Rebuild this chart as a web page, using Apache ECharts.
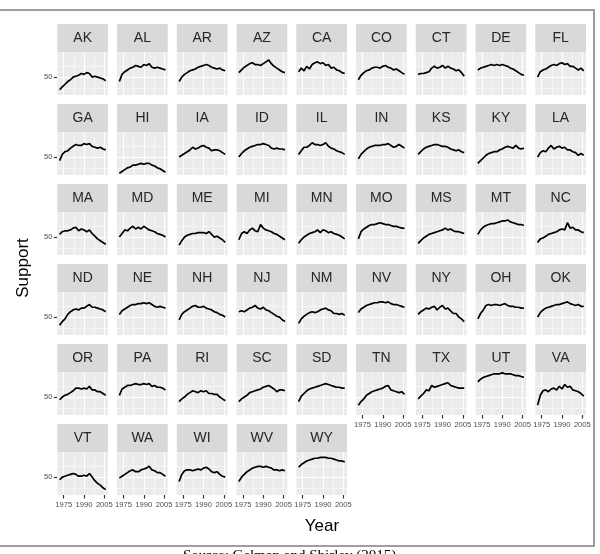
<!DOCTYPE html>
<html>
<head>
<meta charset="utf-8">
<script src="https://cdn.jsdelivr.net/npm/echarts@6/dist/echarts.min.js"></script>
<style>
  html, body { margin: 0; padding: 0; background: #fff; }
  #chart { width: 600px; height: 554px; }
</style>
</head>
<body>
<div id="chart"></div>
<script>
// years of the estimates (every second year)
const years = [1972, 1974, 1976, 1978, 1980, 1982, 1984, 1986, 1988, 1990, 1992, 1994, 1996, 1998, 2000, 2002, 2004, 2006];
const xTicks = [1975, 1990, 2005];
const xMinor = [1982.5, 1997.5];
const yTicks = [50];
const yMinor = [37.5, 62.5];

const states = ['AK','AL','AR','AZ','CA','CO','CT','DE','FL',
  'GA','HI','IA','ID','IL','IN','KS','KY','LA',
  'MA','MD','ME','MI','MN','MO','MS','MT','NC',
  'ND','NE','NH','NJ','NM','NV','NY','OH','OK',
  'OR','PA','RI','SC','SD','TN','TX','UT','VA',
  'VT','WA','WI','WV','WY'];

// support (%)
const AK = [36, 39, 42, 45, 47, 50, 51, 52, 54, 53, 55, 54, 50, 51, 50, 49, 48, 46];
const AL = [45, 53, 56, 58, 60, 61, 63, 62, 61, 64, 63, 65, 61, 60, 61, 60, 59, 58];
const AR = [45, 50, 53, 55, 57, 58, 59, 61, 62, 63, 64, 63, 61, 60, 59, 60, 58, 57];
const AZ = [55, 58, 61, 63, 65, 66, 64, 64, 63, 65, 67, 69, 65, 62, 60, 58, 56, 55];
const CA = [56, 60, 57, 62, 59, 64, 66, 67, 65, 66, 63, 64, 60, 61, 58, 57, 55, 54];
const CO = [47, 52, 55, 57, 58, 60, 61, 61, 60, 62, 63, 61, 60, 58, 59, 57, 55, 53];
const CT = [53, 54, 54, 55, 56, 60, 62, 60, 61, 63, 60, 62, 60, 59, 57, 58, 55, 51];
const DE = [58, 60, 61, 62, 63, 64, 63, 64, 63, 64, 63, 62, 60, 59, 57, 55, 53, 52];
const FL = [50, 56, 58, 59, 61, 63, 64, 63, 65, 66, 64, 65, 62, 62, 60, 58, 60, 57];
const GA = [46, 53, 56, 57, 60, 62, 64, 63, 63, 65, 64, 65, 62, 61, 60, 61, 59, 58];
const HI = [32, 34, 36, 38, 39, 41, 41, 42, 43, 42, 43, 43, 41, 40, 38, 37, 35, 33];
const IA = [50, 52, 54, 56, 58, 61, 59, 60, 62, 63, 61, 60, 57, 58, 58, 57, 55, 53];
const ID = [50, 54, 57, 59, 61, 62, 63, 64, 64, 65, 64, 63, 60, 59, 60, 59, 59, 58];
const IL = [53, 57, 61, 61, 63, 66, 64, 64, 63, 64, 66, 62, 60, 59, 57, 56, 55, 53];
const IN = [48, 53, 56, 59, 61, 62, 63, 63, 63, 64, 64, 65, 63, 61, 62, 64, 62, 60];
const KS = [53, 56, 59, 61, 62, 63, 64, 64, 63, 62, 62, 61, 59, 58, 57, 58, 56, 55];
const KY = [43, 46, 49, 52, 54, 55, 56, 56, 58, 59, 61, 62, 61, 60, 63, 60, 59, 60];
const LA = [50, 55, 57, 56, 60, 63, 59, 61, 62, 60, 61, 58, 58, 56, 55, 52, 54, 52];
const MA = [53, 56, 57, 57, 58, 60, 61, 57, 59, 58, 56, 58, 54, 51, 48, 46, 44, 42];
const MD = [50, 54, 58, 57, 60, 62, 59, 61, 59, 62, 60, 58, 57, 56, 54, 53, 52, 50];
const ME = [41, 46, 50, 52, 53, 54, 54, 55, 55, 55, 54, 56, 53, 50, 51, 49, 47, 44];
const MI = [47, 54, 56, 54, 58, 60, 57, 56, 64, 60, 58, 57, 56, 54, 53, 51, 49, 47];
const MN = [43, 47, 50, 52, 54, 55, 56, 58, 55, 58, 57, 55, 56, 54, 53, 52, 50, 48];
const MO = [48, 56, 59, 61, 63, 64, 64, 65, 66, 65, 64, 64, 63, 62, 62, 61, 60, 60];
const MS = [43, 46, 49, 51, 53, 54, 55, 56, 57, 58, 60, 58, 59, 57, 56, 56, 55, 54];
const MT = [53, 58, 61, 63, 64, 65, 65, 66, 67, 68, 68, 69, 67, 66, 65, 64, 64, 63];
const NC = [44, 48, 49, 51, 53, 54, 55, 56, 58, 59, 58, 66, 60, 61, 58, 58, 56, 55];
const ND = [41, 45, 48, 53, 56, 58, 59, 58, 60, 60, 62, 64, 61, 61, 60, 59, 58, 56];
const NE = [53, 57, 59, 61, 63, 64, 64, 65, 65, 66, 65, 66, 64, 62, 61, 62, 61, 60];
const NH = [47, 53, 56, 58, 60, 62, 63, 61, 61, 62, 60, 59, 58, 56, 55, 53, 52, 50];
const NJ = [56, 57, 56, 58, 60, 61, 63, 60, 59, 61, 58, 57, 55, 53, 51, 50, 47, 45];
const NM = [43, 48, 51, 53, 55, 56, 55, 56, 58, 59, 60, 58, 57, 54, 54, 53, 54, 52];
const NV = [55, 59, 61, 63, 64, 65, 66, 66, 67, 67, 66, 67, 65, 64, 64, 63, 62, 61];
const NY = [53, 56, 58, 60, 59, 61, 62, 58, 61, 63, 59, 60, 57, 54, 54, 50, 48, 45];
const OH = [48, 54, 58, 63, 64, 63, 64, 64, 63, 64, 65, 63, 62, 62, 61, 61, 60, 60];
const OK = [50, 55, 58, 60, 61, 62, 63, 64, 64, 65, 66, 67, 65, 64, 63, 64, 62, 62];
const OR = [47, 50, 52, 53, 55, 57, 60, 60, 59, 60, 59, 62, 58, 58, 56, 56, 54, 52];
const PA = [52, 59, 61, 63, 63, 64, 65, 64, 64, 65, 64, 65, 62, 63, 61, 61, 60, 58];
const RI = [45, 48, 50, 53, 55, 57, 56, 55, 57, 56, 57, 54, 54, 53, 53, 50, 48, 46];
const SC = [45, 48, 50, 52, 55, 56, 57, 58, 59, 61, 62, 63, 61, 59, 56, 58, 58, 57];
const SD = [45, 51, 54, 57, 59, 60, 61, 62, 63, 64, 65, 64, 63, 62, 61, 61, 60, 60];
const TN = [41, 45, 48, 52, 54, 56, 57, 58, 59, 60, 62, 63, 58, 57, 56, 55, 56, 53];
const TX = [48, 51, 54, 58, 57, 63, 61, 62, 63, 64, 65, 66, 63, 62, 61, 60, 60, 60];
const UT = [67, 70, 72, 73, 74, 75, 76, 76, 76, 77, 76, 76, 76, 75, 74, 74, 73, 72];
const VA = [41, 52, 57, 58, 56, 59, 60, 58, 62, 59, 64, 61, 62, 58, 57, 56, 54, 51];
const VT = [47, 50, 51, 52, 53, 54, 53, 51, 51, 52, 51, 54, 50, 46, 43, 41, 38, 36];
const WA = [49, 51, 53, 55, 57, 58, 56, 56, 58, 59, 60, 62, 58, 57, 55, 55, 53, 51];
const WI = [45, 53, 57, 58, 58, 57, 58, 59, 58, 60, 61, 59, 56, 55, 56, 53, 51, 50];
const WV = [45, 50, 53, 56, 58, 60, 61, 62, 62, 61, 62, 61, 60, 58, 58, 57, 58, 57];
const WY = [61, 64, 66, 68, 69, 70, 71, 71, 72, 72, 72, 71, 71, 70, 69, 68, 68, 67];

const support = [AK, AL, AR, AZ, CA, CO, CT, DE, FL,
  GA, HI, IA, ID, IL, IN, KS, KY, LA,
  MA, MD, ME, MI, MN, MO, MS, MT, NC,
  ND, NE, NH, NJ, NM, NV, NY, OH, OK,
  OR, PA, RI, SC, SD, TN, TX, UT, VA,
  VT, WA, WI, WV, WY];

// facet layout
const ncol = 9;
const left0 = 57.3, colStep = 59.75, panelW = 50.7;
const top0 = 52, rowStep = 80, panelH = 43, stripH = 28;

let grids = [], xAxes = [], yAxes = [], series = [], graphics = [];

function gridLines() {
  let d = [];
  xMinor.forEach(v => d.push({ xAxis: v, lineStyle: { width: 0.5 } }));
  yMinor.forEach(v => d.push({ yAxis: v, lineStyle: { width: 0.5 } }));
  xTicks.forEach(v => d.push({ xAxis: v, lineStyle: { width: 1.1 } }));
  yTicks.forEach(v => d.push({ yAxis: v, lineStyle: { width: 1.1 } }));
  return d;
}

states.forEach((st, i) => {
  const c = i % ncol, r = Math.floor(i / ncol);
  const left = left0 + colStep * c;
  const top = top0 + rowStep * r;
  const bottomRow = i + ncol >= states.length;

  grids.push({
    left: left, top: top, width: panelW, height: panelH,
    show: true, backgroundColor: '#ebebeb', borderWidth: 0
  });
  xAxes.push({
    type: 'value', gridIndex: i, min: 1970.3, max: 2007.7,
    axisLine: { show: false }, splitLine: { show: false },
    axisTick: { show: bottomRow, customValues: xTicks, length: 3.5, lineStyle: { color: '#333', width: 1.2 } },
    axisLabel: { show: bottomRow, customValues: xTicks, fontSize: 7.6, color: '#4d4d4d', margin: 6,
      fontFamily: 'Liberation Sans', formatter: v => String(v) }
  });
  yAxes.push({
    type: 'value', gridIndex: i, min: 30, max: 78,
    axisLine: { show: false }, splitLine: { show: false },
    axisTick: { show: c === 0, customValues: yTicks, length: 3.5, lineStyle: { color: '#333', width: 1.2 } },
    axisLabel: { show: c === 0, customValues: yTicks, fontSize: 7.5, color: '#4d4d4d', margin: 5,
      fontFamily: 'Liberation Sans', formatter: v => String(v) }
  });
  series.push({
    type: 'line', xAxisIndex: i, yAxisIndex: i, z: 3,
    showSymbol: false, silent: true, animation: false,
    lineStyle: { color: '#000', width: 1.7 },
    data: years.map((y, k) => [y, support[i][k]]),
    markLine: {
      z: 1, silent: true, symbol: 'none', animation: false,
      label: { show: false },
      lineStyle: { color: '#ffffff', type: 'solid' },
      data: gridLines()
    }
  });
  // strip with state name
  graphics.push({
    type: 'rect', shape: { x: left, y: top - stripH, width: panelW, height: stripH },
    style: { fill: '#d9d9d9' }, silent: true
  });
  graphics.push({
    type: 'text', x: left + panelW / 2, y: top - stripH / 2 + 0.5, silent: true,
    style: { text: st, fill: '#262626', font: '14px "Liberation Sans"', textAlign: 'center', textVerticalAlign: 'middle' }
  });
});

// axis titles, frame and caption
graphics.push({
  type: 'text', x: 23, y: 268, rotation: Math.PI / 2, silent: true,
  style: { text: 'Support', fill: '#000', font: '17px "Liberation Sans"', textAlign: 'center', textVerticalAlign: 'middle' }
});
graphics.push({
  type: 'text', x: 322, y: 526, silent: true,
  style: { text: 'Year', fill: '#000', font: '17px "Liberation Sans"', textAlign: 'center', textVerticalAlign: 'middle' }
});
graphics.push({
  type: 'rect', shape: { x: -2, y: 10, width: 596, height: 536 }, silent: true,
  style: { fill: null, stroke: '#808080', lineWidth: 1.5 }
});
graphics.push({
  type: 'text', x: 183, y: 549, silent: true,
  style: { text: 'Source: Gelman and Shirley (2015)', fill: '#000', font: '15px "Liberation Serif"', textAlign: 'left', textVerticalAlign: 'top' }
});

const chart = echarts.init(document.getElementById('chart'), null, { renderer: 'canvas' });
chart.setOption({
  animation: false,
  backgroundColor: '#fff',
  grid: grids,
  xAxis: xAxes,
  yAxis: yAxes,
  series: series,
  graphic: graphics
});
</script>
</body>
</html>
